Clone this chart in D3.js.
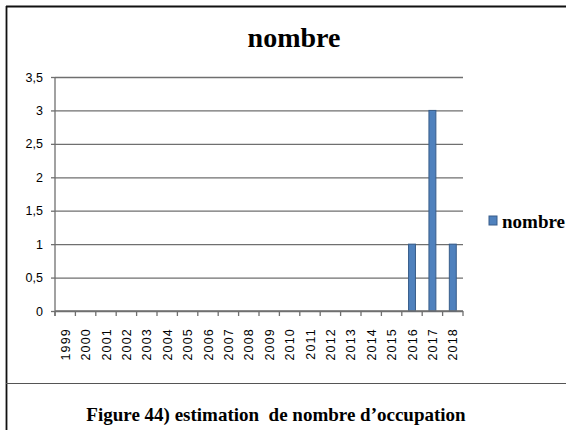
<!DOCTYPE html>
<html>
<head>
<meta charset="utf-8">
<script src="https://cdn.jsdelivr.net/npm/d3@7"></script>
<style>
  html, body { margin: 0; padding: 0; background: #fff; }
  svg { display: block; }
</style>
</head>
<body>
<svg id="chart" width="566" height="430"></svg>
<script>
// Yearly counts of occupation
const years = ["1999","2000","2001","2002","2003","2004","2005","2006","2007","2008",
               "2009","2010","2011","2012","2013","2014","2015","2016","2017","2018"];
const values = [0,0,0,0,0,0,0,0,0,0,0,0,0,0,0,0,0,1,3,1];
const yTicks = [0, 0.5, 1, 1.5, 2, 2.5, 3, 3.5];
const seriesName = "nombre";
const titleText = "nombre";
const captionText = "Figure 44) estimation  de nombre d\u2019occupation";

const SERIF = "'Liberation Serif', 'Times New Roman', serif";
const SANS = "'Liberation Sans', 'DejaVu Sans', sans-serif";

const svg = d3.select("#chart");
const plot = { left: 55, right: 463, top: 77, bottom: 311 };

// Frame around the chart and caption
svg.append("line").attr("x1", 6).attr("x2", 566).attr("y1", 6.5).attr("y2", 6.5)
  .attr("stroke", "#111").attr("stroke-width", 1.8);
svg.append("line").attr("x1", 6.5).attr("x2", 6.5).attr("y1", 6).attr("y2", 430)
  .attr("stroke", "#111").attr("stroke-width", 1.8);
svg.append("line").attr("x1", 6).attr("x2", 566).attr("y1", 383.5).attr("y2", 383.5)
  .attr("stroke", "#555").attr("stroke-width", 1);

const x = d3.scaleBand().domain(years).range([plot.left, plot.right]).paddingInner(0.66).paddingOuter(0.33);
const xTickScale = d3.scaleBand().domain(years).range([plot.left, plot.right]);
const y = d3.scaleLinear().domain([0, 3.5]).range([plot.bottom, plot.top]);

// Horizontal gridlines with y labels
const yAxis = d3.axisLeft(y).tickValues(yTicks)
  .tickFormat(d => String(d).replace(".", ","))
  .tickSize(-(plot.right - plot.left)).tickPadding(12);
const gy = svg.append("g").attr("transform", `translate(${plot.left},0)`).call(yAxis);
gy.select(".domain").remove();
gy.selectAll(".tick line").attr("stroke", "#6f6f6f").attr("stroke-width", 1.3);
gy.selectAll(".tick").append("line").attr("x1", -4).attr("x2", 0).attr("stroke", "#6f6f6f").attr("stroke-width", 1.3);
gy.selectAll(".tick text").attr("font-family", null).style("font-family", SANS)
  .style("font-size", "12.5px").attr("fill", "#000");

// Vertical axis line
svg.append("line").attr("x1", plot.left).attr("x2", plot.left)
  .attr("y1", plot.top).attr("y2", plot.bottom + 5)
  .attr("stroke", "#6f6f6f").attr("stroke-width", 1.3);

// Bars
svg.append("g").selectAll("rect").data(years.map((yr, i) => ({ yr, v: values[i] })).filter(d => d.v > 0))
  .join("rect")
  .attr("x", d => x(d.yr))
  .attr("y", d => y(d.v))
  .attr("width", x.bandwidth())
  .attr("height", d => y(0) - y(d.v))
  .attr("fill", "#4f81bd").attr("stroke", "#385d8a").attr("stroke-width", 1);

// Category axis with boundary ticks
const gx = svg.append("g").attr("transform", `translate(0,${plot.bottom})`);
gx.append("line").attr("x1", plot.left).attr("x2", plot.right)
  .attr("stroke", "#6f6f6f").attr("stroke-width", 1.3);
const bounds = years.map(yr => xTickScale(yr)).concat([plot.right]);
gx.selectAll("line.b").data(bounds).join("line").attr("class", "b")
  .attr("x1", d => d).attr("x2", d => d).attr("y1", 0).attr("y2", 5)
  .attr("stroke", "#6f6f6f").attr("stroke-width", 1.3);
gx.selectAll("text").data(years).join("text")
  .attr("transform", d => `translate(${xTickScale(d) + xTickScale.bandwidth() / 2 + 4.5},${17}) rotate(-90)`)
  .attr("text-anchor", "end")
  .style("font-family", SANS).style("font-size", "12.5px").style("letter-spacing", "1.2px")
  .attr("fill", "#000")
  .text(d => d);

// Title
svg.append("text").attr("x", 294).attr("y", 47).attr("text-anchor", "middle")
  .style("font-family", SERIF).style("font-weight", "bold").style("font-size", "28px")
  .text(titleText);

// Legend
const lg = svg.append("g").attr("transform", "translate(489,216)");
lg.append("rect").attr("width", 8).attr("height", 9)
  .attr("fill", "#4f81bd").attr("stroke", "#385d8a").attr("stroke-width", 1);
lg.append("text").attr("x", 13).attr("y", 12)
  .style("font-family", SERIF).style("font-weight", "bold").style("font-size", "19px")
  .text(seriesName);

// Caption
svg.append("text").attr("x", 276).attr("y", 421).attr("text-anchor", "middle")
  .style("font-family", SERIF).style("font-weight", "bold").style("font-size", "19px")
  .style("white-space", "pre")
  .text(captionText);
</script>
</body>
</html>
